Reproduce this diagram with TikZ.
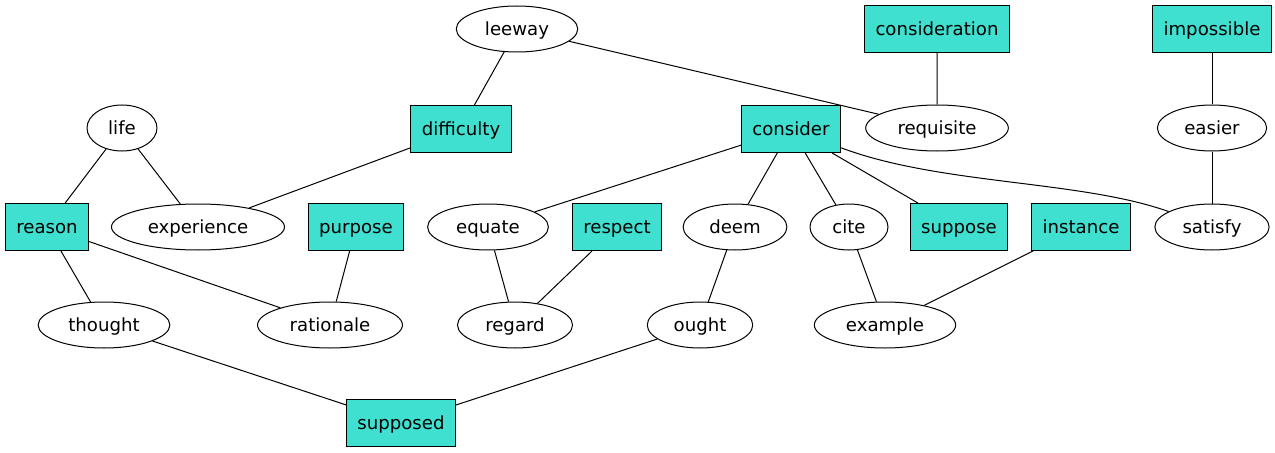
\documentclass[tikz,border=0pt]{standalone}
\usepackage{fontspec}
\setmainfont{DejaVu Sans}
\usetikzlibrary{shapes.geometric}
\definecolor{turq}{HTML}{40E0D0}

\begin{document}
\begin{tikzpicture}[x=0.75pt,y=-0.75pt,line width=0.75pt,
  word/.style={draw,ellipse,inner xsep=8.2pt,inner ysep=2pt,text height=11pt,text depth=1pt,minimum height=34.5pt,font=\fontsize{13.6}{16}\selectfont},
  term/.style={draw,rectangle,fill=turq,inner xsep=8.2pt,inner ysep=2pt,text height=11pt,text depth=1pt,minimum height=35.2pt,font=\fontsize{13.6}{16}\selectfont}]
  \useasboundingbox (0,0) rectangle (1275,453);
  \node (leeway) at (517,29) [word] {leeway};
  \node (consideration) at (937,29) [term] {consideration};
  \node (impossible) at (1212,29) [term] {impossible};
  \node (life) at (122,128) [word] {life};
  \node (difficulty) at (461,129) [term] {difficulty};
  \node (consider) at (791,129) [term] {consider};
  \node (requisite) at (937,128) [word] {requisite};
  \node (easier) at (1212,128) [word] {easier};
  \node (reason) at (47,227) [term] {reason};
  \node (experience) at (198,227) [word] {experience};
  \node (purpose) at (356,227) [term] {purpose};
  \node (equate) at (488,227) [word] {equate};
  \node (respect) at (617,227) [term] {respect};
  \node (deem) at (735,227) [word] {deem};
  \node (cite) at (849,227) [word] {cite};
  \node (suppose) at (959,227) [term] {suppose};
  \node (instance) at (1081,227) [term] {instance};
  \node (satisfy) at (1212,227) [word] {satisfy};
  \node (thought) at (104,325) [word] {thought};
  \node (rationale) at (330,325) [word] {rationale};
  \node (regard) at (515,325) [word] {regard};
  \node (ought) at (700,325) [word] {ought};
  \node (example) at (885,325) [word] {example};
  \node (supposed) at (401,423) [term] {supposed};
  \draw (difficulty) to (leeway) to (requisite) to (consideration);
  \draw (impossible) to (easier) to (satisfy);
  \draw (reason) to (life) to (experience) to (difficulty);
  \draw (equate) to (consider) to (deem);
  \draw (cite) to (consider) to (suppose);
  \draw (consider) .. controls (940,185) and (1080,180) .. (satisfy);
  \draw (thought) to (reason) to (rationale) to (purpose);
  \draw (equate) to (regard) to (respect);
  \draw (deem) to (ought) to (supposed) to (thought);
  \draw (cite) to (example) to (instance);
\end{tikzpicture}
\end{document}
